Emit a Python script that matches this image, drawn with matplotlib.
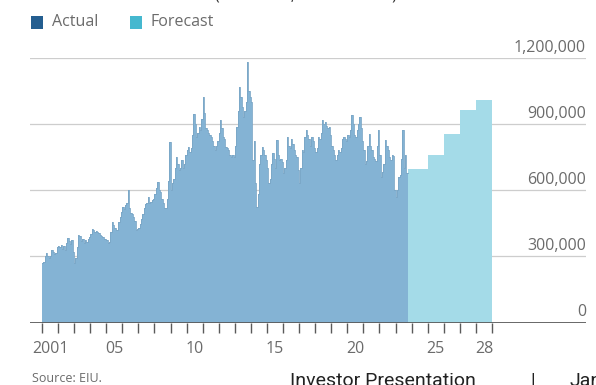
import numpy as np
import matplotlib
matplotlib.use('Agg')
import matplotlib.pyplot as plt
from matplotlib import transforms
from matplotlib.patches import Rectangle

# monthly actuals, thousands, Jan 2001 - Sep 2023
actual_monthly = [
    270, 272, 300, 316, 300, 293, 300, 330, 320, 310, 315, 340,     # 2001
    345, 340, 350, 335, 345, 330, 360, 383, 370, 355, 375, 320,     # 2002
    270, 290, 340, 395, 390, 370, 380, 360, 375, 365, 380, 385,     # 2003
    400, 425, 420, 410, 415, 412, 405, 395, 390, 385, 380, 380,     # 2004
    375, 360, 365, 410, 457, 440, 430, 420, 420, 455, 480, 500,     # 2005
    525, 515, 530, 540, 600, 520, 495, 490, 480, 460, 420, 425,     # 2006
    430, 445, 470, 490, 520, 536, 540, 570, 540, 545, 555, 560,     # 2007
    580, 610, 637, 600, 590, 560, 541, 520, 520, 560, 640, 818,     # 2008
    600, 630, 650, 700, 750, 720, 690, 700, 735, 700, 720, 760,     # 2009
    780, 795, 770, 790, 850, 946, 900, 840, 860, 885, 870, 920,     # 2010
    1021, 950, 880, 870, 860, 850, 840, 820, 800, 780, 800, 820,    # 2011
    860, 915, 880, 840, 830, 795, 790, 780, 760, 750, 760, 750,     # 2012
    800, 885, 960, 1066, 1020, 976, 930, 960, 1000, 1179, 1050, 1020,  # 2013
    1000, 735, 820, 630, 525, 580, 720, 760, 795, 780, 760, 735,    # 2014
    700, 630, 650, 720, 766, 740, 700, 825, 760, 735, 740, 725,     # 2015
    675, 700, 735, 840, 800, 790, 830, 810, 780, 760, 750, 690,     # 2016
    630, 700, 780, 770, 840, 870, 850, 830, 800, 840, 820, 790,     # 2017
    770, 790, 840, 830, 860, 915, 900, 910, 890, 880, 885, 850,     # 2018
    800, 780, 760, 735, 760, 780, 770, 790, 830, 840, 830, 820,     # 2019
    850, 840, 870, 938, 900, 850, 840, 870, 900, 930, 880, 820,     # 2020
    780, 720, 730, 800, 855, 800, 780, 750, 740, 730, 800, 870,     # 2021
    760, 660, 680, 720, 825, 800, 780, 750, 735, 760, 755, 600,     # 2022
    570, 600, 660, 670, 740, 870, 700, 760, 675,                    # 2023
]

# forecast levels, thousands (first entry covers the rest of 2023)
forecast_years = [2023, 2024, 2025, 2026, 2027, 2028]
forecast_values = [695, 695, 760, 852, 962, 1009]

yticks = [0, 300000, 600000, 900000, 1200000]
tick_labels = ['2001', '05', '10', '15', '20', '25', '28']
label_years = [2001, 2005, 2010, 2015, 2020, 2025, 2028]

COL_ACTUAL = '#84b3d4'
COL_FORECAST = '#a4dbe8'
TXT = '#6b6b6b'
W, H = 596, 385

plt.rcParams['font.family'] = ['Open Sans', 'DejaVu Sans']


def px(x, y):
    return x / W, 1 - y / H


fig = plt.figure(figsize=(W / 100, H / 100), dpi=100)
ax = fig.add_axes([30 / W, 62.5 / H, 556 / W, 265 / H])

# monthly bars
actual = np.array(actual_monthly) * 1000
x_act = 2001 + np.arange(len(actual)) / 12

fc_months = []
for yr, v in zip(forecast_years, forecast_values):
    start = len(actual) - 12 * (yr - 2001) if yr == 2023 else 0
    fc_months += [v * 1000] * (12 - start)
forecast = np.array(fc_months)
x_fc = 2001 + (len(actual) + np.arange(len(forecast))) / 12

ax.bar(x_act, actual, width=1 / 12, align='edge', color=COL_ACTUAL, linewidth=0, zorder=2)
ax.bar(x_fc, forecast, width=1 / 12, align='edge', color=COL_FORECAST, linewidth=0, zorder=2)
ax.step(np.append(x_act, x_act[-1] + 1 / 12), np.append(actual, actual[-1]),
        where='post', color='#7aa6c6', lw=0.6, zorder=3)

# gridlines + right side labels
for v in yticks[1:]:
    ax.axhline(v, color='#cdcdcd', lw=0.9, zorder=1)
ax.axhline(0, color='#5a5a5a', lw=2, zorder=4)

lab_tr = transforms.offset_copy(transforms.blended_transform_factory(ax.transAxes, ax.transData),
                                fig=fig, y=2, units='dots')
for v in yticks:
    ax.text(1.0, v, f'{v:,}', transform=lab_tr, ha='right', va='bottom',
            fontsize=11.5, color=TXT)

ax.set_xlim(2001 - 12 / 16.07, 2001 + 556 / 16.07 - 12 / 16.07)
ax.set_ylim(0, 1200000)
for s in ax.spines.values():
    s.set_visible(False)
ax.set_yticks([])

ax.set_xticks(np.arange(2001, 2030))
ax.tick_params(axis='x', which='major', length=7, width=1, color='#5a5a5a', labelbottom=False)
ax.set_xticks([y + 0.5 for y in label_years], minor=True)
ax.set_xticklabels(tick_labels, minor=True)
ax.tick_params(axis='x', which='minor', length=0, pad=13, labelsize=11.5, labelcolor=TXT)

# legend
for x0, col, name in [(31, '#245e90', 'Actual'), (130, '#45b8cf', 'Forecast')]:
    fig.add_artist(Rectangle(px(x0, 29), 12 / W, 13 / H, transform=fig.transFigure,
                             facecolor=col, edgecolor='none'))
    fig.text(*px(x0 + 21, 22), name, ha='left', va='center', fontsize=11.5, color=TXT)

# title line above, cut by the top edge
fig.text(*px(215, 0), '(thousand, total arrivals)', ha='left', va='baseline',
         fontsize=11.5, color='#333333')

fig.text(*px(32, 378), 'Source: EIU.', ha='left', va='center', fontsize=9, color=TXT)

fig.text(*px(290, 372), 'Investor Presentation', ha='left', va='top',
         fontsize=14, color='#222222', family=['Roboto', 'DejaVu Sans'])
fig.text(*px(530, 372), '|', ha='left', va='top', fontsize=14, color='#222222',
         family=['Roboto', 'DejaVu Sans'])
fig.text(*px(570, 372), 'Jan', ha='left', va='top', fontsize=14, color='#222222',
         family=['Roboto', 'DejaVu Sans'])

fig.savefig('out.png', dpi=100)
